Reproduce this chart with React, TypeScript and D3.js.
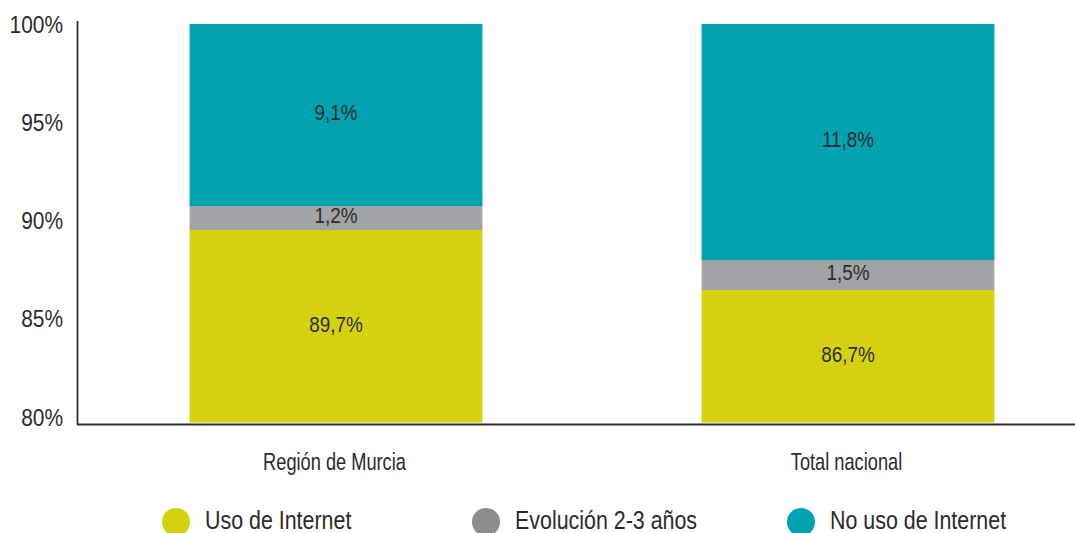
import * as React from "react";
import * as d3 from "d3";

const categories = ["Región de Murcia", "Total nacional"];
const seriesNames = ["Uso de Internet", "Evolución 2-3 años", "No uso de Internet"];
const usoInternet = [89.7, 86.7];
const evolucion = [1.2, 1.5];
const noUso = [9.1, 11.8];
const yTicks = [80, 85, 90, 95, 100];

const barColors = ["#d5d10f", "#a2a3a6", "#00a2b2"];
const legendColors = ["#d5d10f", "#8a8c8e", "#00a2b2"];

const WIDTH = 1075;
const HEIGHT = 533;
const FONT = '"Liberation Sans", Arial, sans-serif';
const TEXT = "#2b2b2b";

const fmt = (v: number) => v.toFixed(1).replace(".", ",") + "%";

type Sel = d3.Selection<SVGGElement, unknown, null, undefined>;

// condensed look: regular sans squeezed horizontally
const label = (
  parent: Sel,
  x: number,
  y: number,
  text: string,
  size: number,
  squeeze: number,
  anchor: string
) =>
  parent
    .append("text")
    .attr("transform", `translate(${x}, ${y}) scale(${squeeze}, 1)`)
    .attr("text-anchor", anchor)
    .attr("font-family", FONT)
    .attr("font-size", size)
    .attr("fill", TEXT)
    .text(text);

const App: React.FunctionComponent = () => {
  const svgRef = React.useRef<SVGSVGElement>(null);

  React.useEffect(() => {
    document.body.style.margin = "0";
    const svgElement = svgRef.current;
    if (!svgElement) return;
    while (svgElement.firstChild) svgElement.removeChild(svgElement.firstChild);

    const svg = d3.select(svgElement);
    const root = svg.append("g") as unknown as Sel;

    const y = d3.scaleLinear().domain([80, 100]).range([424, 24]);
    // tick labels in the original sit on a slightly tighter spacing than the grid
    const yLabel = d3.scaleLinear().domain([80, 100]).range([425.5, 33]);
    const x = d3
      .scaleBand<string>()
      .domain(categories)
      .range([80, 1104])
      .paddingInner(0.428)
      .paddingOuter(0.214);

    const rows = categories.map((c, i) => ({
      cat: c,
      values: [usoInternet[i], evolucion[i], noUso[i]],
    }));

    // stacked segments
    const bars = root.append("g").attr("class", "bars");
    rows.forEach((r) => {
      let base = 80;
      r.values.forEach((v, j) => {
        const lo = j === 0 ? 80 : base;
        const hi = j === 0 ? v : base + v;
        const top = Math.min(hi, 100);
        bars
          .append("rect")
          .attr("x", x(r.cat)!)
          .attr("width", x.bandwidth())
          .attr("y", y(top))
          .attr("height", y(lo) - y(top) - (j === 0 ? 1.5 : 0))
          .attr("fill", barColors[j]);
        label(
          bars,
          x(r.cat)! + x.bandwidth() / 2,
          (y(lo) + y(top)) / 2 + 5,
          fmt(v),
          22,
          0.86,
          "middle"
        );
        base = hi;
      });
    });

    // axes
    const axis = root.append("g").attr("stroke", "#333").attr("stroke-width", 1.8);
    axis
      .append("line")
      .attr("x1", 77.5)
      .attr("x2", 77.5)
      .attr("y1", y(100) - 3)
      .attr("y2", y(80) + 1);
    axis
      .append("line")
      .attr("x1", 77)
      .attr("x2", WIDTH)
      .attr("y1", y(80) + 0.5)
      .attr("y2", y(80) + 0.5);

    const ticks = root.append("g");
    yTicks.forEach((t) => label(ticks, 63, yLabel(t), t + "%", 24, 0.87, "end"));

    const cats = root.append("g");
    categories.forEach((c) =>
      label(cats, x(c)! + x.bandwidth() / 2 - 1.5, 470, c, 24, 0.76, "middle")
    );

    // legend
    const legendX = [176, 486, 801];
    seriesNames.forEach((name, i) => {
      const g = root.append("g").attr("transform", `translate(${legendX[i]}, 522)`);
      g.append("circle").attr("r", 14).attr("fill", legendColors[i]);
      label(g, 29, 7, name, 25.5, 0.84, "start");
    });
  }, []);

  return <svg ref={svgRef} width={WIDTH} height={HEIGHT} style={{ display: "block" }} />;
};

export default App;
